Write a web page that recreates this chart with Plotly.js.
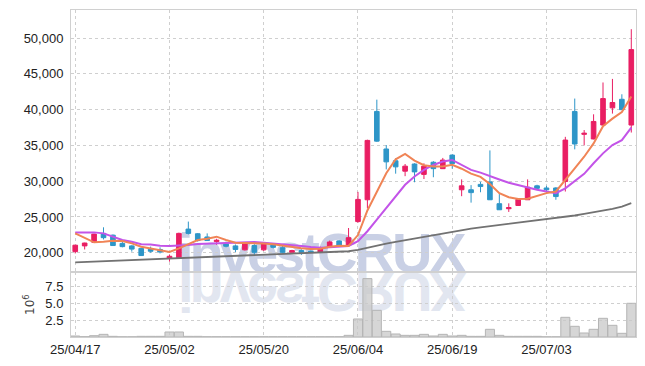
<!DOCTYPE html>
<html>
<head>
<meta charset="utf-8">
<script src="https://cdn.plot.ly/plotly-3.0.1.min.js"></script>
<style>
html,body{margin:0;padding:0;background:#fff;}
#wrap{position:relative;width:645px;height:366px;overflow:hidden;}
#chart{position:absolute;left:0;top:0;width:645px;height:366px;z-index:2;}
.wm{position:absolute;z-index:1;font-family:"Liberation Sans",Arial,sans-serif;font-weight:bold;font-size:56px;line-height:39px;height:39px;white-space:nowrap;}
#w1{left:178px;top:233px;letter-spacing:-4px;color:#c9d0e5;}
#w2{left:317px;top:233px;letter-spacing:-3px;color:#c9d0e5;}
#w3{left:178px;top:272.5px;letter-spacing:-4px;color:#e2e6f0;transform:scaleY(-1);}
#w4{left:317px;top:272.5px;letter-spacing:-3px;color:#e2e6f0;transform:scaleY(-1);}
</style>
</head>
<body>
<div id="wrap">
<div class="wm" id="w1">invest</div>
<div class="wm" id="w2">CRUX</div>
<div class="wm" id="w3">invest</div>
<div class="wm" id="w4">CRUX</div>
<div id="chart"></div>
</div>
<script>
const dates = ['25/04/17','25/04/18','25/04/21','25/04/22','25/04/23','25/04/24','25/04/25','25/04/28','25/04/29','25/04/30',
'25/05/02','25/05/07','25/05/08','25/05/09','25/05/12','25/05/13','25/05/14','25/05/15','25/05/16','25/05/19',
'25/05/20','25/05/21','25/05/22','25/05/23','25/05/26','25/05/27','25/05/28','25/05/29','25/05/30','25/06/02',
'25/06/04','25/06/05','25/06/09','25/06/10','25/06/11','25/06/12','25/06/13','25/06/16','25/06/17','25/06/18',
'25/06/19','25/06/20','25/06/23','25/06/24','25/06/25','25/06/26','25/06/27','25/06/30','25/07/01','25/07/02',
'25/07/03','25/07/04','25/07/07','25/07/08','25/07/09','25/07/10','25/07/11','25/07/14','25/07/15','25/07/16'];

const openP = [20150,20950,21450,22700,22450,21300,20950,20600,20550,20450,
19200,19200,23300,22650,22200,21550,21250,20950,20400,21000,
20400,21100,20700,20050,20300,20200,20050,20850,21650,21050,
24350,27400,39750,34500,32850,31400,32400,30950,32650,31750,
33650,28800,28800,29550,29900,26850,26150,26600,27400,29350,
29050,29050,29950,39750,36550,35900,37850,40250,41450,37850];
const highP = [21100,21400,22650,23550,22550,21600,21050,20700,20850,20750,
19750,22800,24350,22750,22700,21950,21550,21150,21450,21200,
21400,21250,20950,20400,20450,20300,20850,21700,21750,23450,
28500,35800,41400,35050,33200,32400,32500,32500,32800,33250,
33750,30250,29450,29900,34300,28200,26900,27500,30250,29500,
29350,29150,36200,41550,37150,39350,43800,44300,42150,51250];
const lowP = [19900,20450,21350,21850,20950,20750,20150,19550,20000,19900,
18750,19200,22550,21550,21650,21100,20750,20100,20300,19650,
20250,20600,19900,20000,19700,19950,20000,20800,20850,20950,
24200,26200,35500,31650,31050,30700,29850,30300,30550,31700,
31750,27900,27000,28450,27400,26000,25700,26550,27400,28800,
28300,27400,28550,34450,35000,35850,37800,39450,40000,36800];
const closeP = [21050,21350,22600,22100,21000,20850,20500,19600,20200,20100,
19500,22700,22700,21700,21700,21750,20900,20450,21350,20050,
21250,20750,20050,20300,20050,20100,20650,21500,20950,22100,
27450,35700,35600,32700,32000,32100,31300,32100,31750,32950,
32450,29350,28400,29250,27400,26000,26300,27450,29150,29000,
28800,27850,35750,35200,36700,38350,41550,41000,40000,48400];
// volume, in units of 10^6 shares
const volume = [0.15,0.05,0.2,0.4,0.1,0.03,0.03,0.1,0.1,0.1,
0.75,0.75,0.1,0.1,0.04,0.04,0.04,0.04,0.04,0.04,
0.04,0.04,0.04,0.04,0.04,0.04,0.04,0.04,0.04,0.25,
2.7,8.75,4.0,0.85,0.45,0.25,0.25,0.4,0.15,0.4,
0.15,0.25,0.1,0.1,1.15,0.25,0.1,0.1,0.1,0.1,
0.03,0.03,2.95,1.6,0.6,1.15,2.8,1.75,0.55,5.05];
const ma5 = [22700,22100,21450,21540,21680,21630,21300,20840,20560,20375,
20100,20610,21210,21770,21960,22240,21770,21400,21350,21350,
21300,21170,20980,20800,20610,20520,20560,20840,20980,20950,
22460,25900,28400,31110,33060,33800,32880,32230,32040,32040,
32300,31740,31060,30600,29600,28330,27750,27500,27540,27960,
28330,28560,30240,31800,33420,35280,37680,38750,39670,41850];
const ma10 = [22840,22840,22840,22700,22240,21770,21540,21170,21150,20980,
20930,20980,21070,21210,21250,21300,21400,21400,21450,21490,
21400,21300,21210,21070,20930,20800,20700,20750,20840,20950,
21600,23000,24620,26240,27870,29490,30650,31580,32270,32740,
32970,32320,31580,31200,30770,30240,29790,29450,29160,28790,
28560,28330,29000,29950,31020,32500,33890,35050,35740,37500];
const ma60 = [18660,18710,18760,18810,18860,18910,18960,19010,19060,19110,
19160,19210,19260,19310,19360,19420,19480,19540,19600,19650,
19700,19750,19800,19850,19900,19950,20000,20060,20120,20200,
20380,20700,21000,21260,21500,21740,21980,22220,22460,22700,
22940,23180,23360,23530,23700,23860,24010,24160,24320,24480,
24640,24800,24980,25200,25420,25650,25890,26140,26450,26930];

const tickDates = ['25/04/17','25/05/02','25/05/20','25/06/04','25/06/19','25/07/03'];
const priceTicks = [20000,25000,30000,35000,40000,45000,50000];
const volTicks = [2.5,5.0,7.5];
const volTickText = ['2.5','5.0','7.5'];

const PINK = '#e91e63', BLUE = '#2e96c8';
const tickFont = {family:'"Liberation Sans",Arial,sans-serif', size:13, color:'#222'};
const gridC = '#cfcfcf';

const traces = [
  {type:'candlestick', x:dates, open:openP, high:highP, low:lowP, close:closeP,
   xaxis:'x', yaxis:'y', hoverinfo:'skip', showlegend:false, whiskerwidth:0,
   increasing:{line:{color:PINK,width:1}, fillcolor:PINK},
   decreasing:{line:{color:BLUE,width:1}, fillcolor:BLUE}},
  {type:'scatter', mode:'lines', x:dates, y:ma60, xaxis:'x', yaxis:'y',
   line:{color:'#727272', width:1.8}, hoverinfo:'skip', showlegend:false},
  {type:'scatter', mode:'lines', x:dates, y:ma10, xaxis:'x', yaxis:'y',
   line:{color:'#c354e8', width:2}, hoverinfo:'skip', showlegend:false},
  {type:'scatter', mode:'lines', x:dates, y:ma5, xaxis:'x', yaxis:'y',
   line:{color:'#f08456', width:2}, hoverinfo:'skip', showlegend:false},
  {type:'bar', x:dates, y:volume, xaxis:'x2', yaxis:'y2',
   marker:{color:'rgba(200,200,200,0.75)', line:{color:'#b5b5b5', width:1}},
   hoverinfo:'skip', showlegend:false}
];

const split = 0.198;
const layout = {
  width:645, height:366,
  margin:{l:71, r:9, t:10, b:29},
  paper_bgcolor:'rgba(0,0,0,0)', plot_bgcolor:'rgba(0,0,0,0)',
  bargap:0.04,
  xaxis:{type:'category', anchor:'y', range:[-0.45,59.5], rangeslider:{visible:false},
    tickvals:tickDates, showticklabels:false, ticks:'',
    showgrid:true, gridcolor:gridC, griddash:'dot', gridwidth:1,
    showline:true, linecolor:'#d0d0d0', mirror:true, zeroline:false},
  xaxis2:{type:'category', anchor:'y2', matches:'x', range:[-0.45,59.5],
    tickvals:tickDates, ticktext:tickDates, tickfont:tickFont, ticks:'',
    showgrid:true, gridcolor:gridC, griddash:'dot', gridwidth:1,
    showline:true, linecolor:'#d0d0d0', mirror:true, zeroline:false},
  yaxis:{domain:[split,1], range:[17265,53935], tickvals:priceTicks, tickformat:',d',
    tickfont:tickFont, ticks:'', ticklabelstandoff:4,
    showgrid:true, gridcolor:gridC, griddash:'dot', gridwidth:1,
    showline:true, linecolor:'#d0d0d0', mirror:true, zeroline:false},
  yaxis2:{domain:[0,split], range:[0,9.7], tickvals:volTicks, ticktext:volTickText,
    tickfont:tickFont, ticks:'', ticklabelstandoff:4,
    title:{text:'10<sup>6</sup>', font:{family:'DejaVu Sans', size:12, color:'#444'}, standoff:8},
    showgrid:true, gridcolor:gridC, griddash:'dot', gridwidth:1,
    showline:true, linecolor:'#d0d0d0', mirror:true, zeroline:false}
};

Plotly.newPlot('chart', traces, layout, {staticPlot:true, displayModeBar:false});
</script>
</body>
</html>
